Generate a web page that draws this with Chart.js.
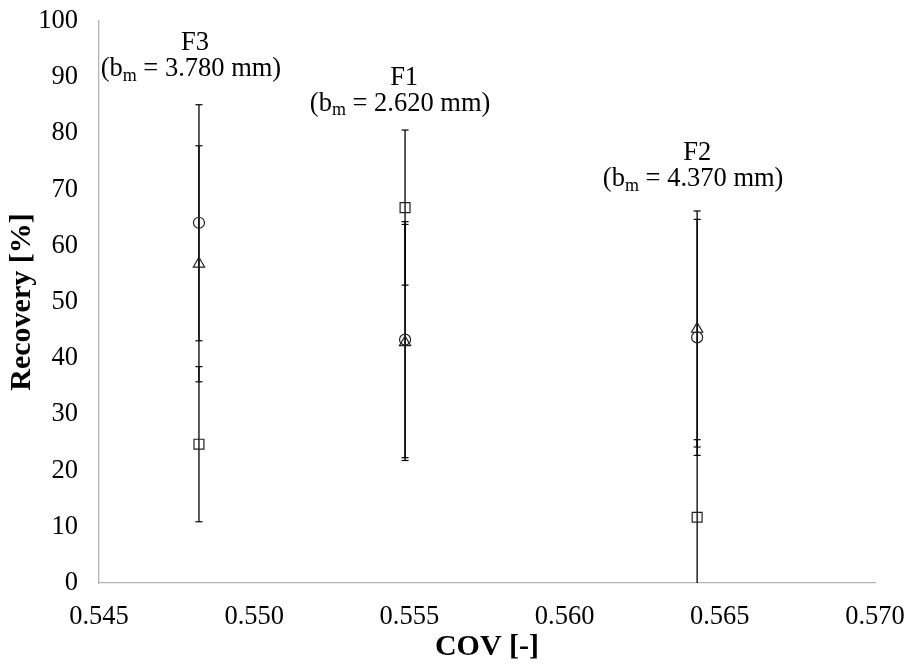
<!DOCTYPE html>
<html><head><meta charset="utf-8">
<script src="https://cdn.jsdelivr.net/npm/chart.js@4.4.0/dist/chart.umd.min.js"></script>
<style>html,body{margin:0;padding:0;background:#fff}#wrap{width:905px;height:665px;position:relative}</style>
</head><body><div id="wrap"><canvas id="c"></canvas></div>
<script>
// ---- data ----
const samples = ['F3', 'F1', 'F2'];
const bmValues = ['3.780', '2.620', '4.370'];
const cov = [0.54822, 0.55486, 0.56427];
const circleVals = [64.1, 43.3, 43.7];
const circleErr = [21.0, 21.0, 21.0];
const triangleVals = [56.8, 42.8, 45.2];
const triangleErr = [21.0, 21.0, 21.0];
const squareVals = [24.7, 66.8, 11.7];
const squareErr = [13.8, 13.8, 13.8];
const labelX = [0.54809, 0.55483, 0.56427]; // annotation centre (data units)
const labelY = [96.1, 89.9, 76.5];          // annotation first-line centre (data units)
const xTicks = [0.545, 0.550, 0.555, 0.560, 0.565, 0.570];
const yTicks = [0, 10, 20, 30, 40, 50, 60, 70, 80, 90, 100];

const FONT = "'Liberation Serif', 'Times New Roman', serif";

const series = [
  {vals: circleVals, err: circleErr, style: 'circle', r: 5.5},
  {vals: triangleVals, err: triangleErr, style: 'triangle', r: 6.5},
  {vals: squareVals, err: squareErr, style: 'rect', r: 7}
];

const datasets = [];
series.forEach(s => {
  cov.forEach((x, i) => {
    datasets.push({
      type: 'line',
      data: [{x: x, y: s.vals[i] - s.err[i]}, {x: x, y: s.vals[i] + s.err[i]}],
      showLine: true,
      borderColor: '#000',
      borderWidth: 1.3,
      pointStyle: 'line',
      pointRadius: 3.5,
      pointBorderColor: '#000',
      pointBorderWidth: 1.2,
      pointHoverRadius: 0,
      order: 2
    });
  });
});
series.forEach(s => {
  datasets.push({
    type: 'scatter',
    data: cov.map((x, i) => ({x: x, y: s.vals[i]})),
    pointStyle: s.style,
    pointRadius: s.r,
    pointBackgroundColor: 'rgba(0,0,0,0)',
    pointBorderColor: '#222',
    pointBorderWidth: 1.2,
    order: 1
  });
});

const annot = {
  id: 'annot',
  afterDatasetsDraw(chart) {
    const ctx = chart.ctx;
    const xs = chart.scales.x, ys = chart.scales.y;
    ctx.save();
    ctx.fillStyle = '#000';
    ctx.textBaseline = 'middle';
    samples.forEach((name, i) => {
      const cx = xs.getPixelForValue(labelX[i]);
      const cy = ys.getPixelForValue(labelY[i]);
      ctx.font = '26.5px ' + FONT;
      ctx.textAlign = 'center';
      ctx.fillText(name, cx, cy);
      const p1 = '(b', sub = 'm', p2 = ' = ' + bmValues[i] + ' mm)';
      ctx.font = '26.5px ' + FONT;
      const w1 = ctx.measureText(p1).width, w2 = ctx.measureText(p2).width;
      ctx.font = '18px ' + FONT;
      const ws = ctx.measureText(sub).width;
      const total = w1 + ws + w2;
      let x0 = cx - 4 - total / 2;
      const y2 = cy + 26;
      ctx.textAlign = 'left';
      ctx.font = '26.5px ' + FONT;
      ctx.fillText(p1, x0, y2);
      ctx.font = '18px ' + FONT;
      ctx.fillText(sub, x0 + w1, y2 + 7);
      ctx.font = '26.5px ' + FONT;
      ctx.fillText(p2, x0 + w1 + ws, y2);
    });
    ctx.restore();
  }
};

const noPad = sc => { sc.paddingTop = 0; sc.paddingBottom = 0; sc.paddingLeft = 0; sc.paddingRight = 0; };

new Chart(document.getElementById('c'), {
  data: {datasets: datasets},
  options: {
    responsive: true,
    maintainAspectRatio: false,
    animation: false,
    events: [],
    layout: {padding: {left: 0, right: 30, top: 21, bottom: 0}},
    plugins: {legend: {display: false}, tooltip: {enabled: false}},
    scales: {
      x: {
        type: 'linear',
        min: 0.545, max: 0.570,
        afterBuildTicks: sc => { sc.ticks = xTicks.map(v => ({value: v})); },
        afterFit: sc => { sc.height = 82; noPad(sc); },
        grid: {display: false, drawTicks: false},
        border: {display: true, color: '#b3b3b3', width: 1.3},
        ticks: {
          padding: 18, color: '#000', maxRotation: 0, autoSkip: false,
          font: {family: FONT, size: 26.5},
          callback: v => Number(v).toFixed(3)
        },
        title: {display: true, text: 'COV [-]', color: '#000',
          font: {family: FONT, size: 30, weight: 'bold'}, padding: {top: 0, bottom: 0}}
      },
      y: {
        type: 'linear',
        min: 0, max: 100,
        afterBuildTicks: sc => { sc.ticks = yTicks.map(v => ({value: v})); },
        afterFit: sc => { sc.width = 99; noPad(sc); },
        grid: {display: false, drawTicks: false},
        border: {display: true, color: '#b3b3b3', width: 1.3},
        ticks: {padding: 21, color: '#000', font: {family: FONT, size: 26.5}},
        title: {display: true, text: 'Recovery [%]', color: '#000',
          font: {family: FONT, size: 30, weight: 'bold'}, padding: {top: 4, bottom: 0}}
      }
    }
  },
  plugins: [annot]
});
</script>
</body></html>
